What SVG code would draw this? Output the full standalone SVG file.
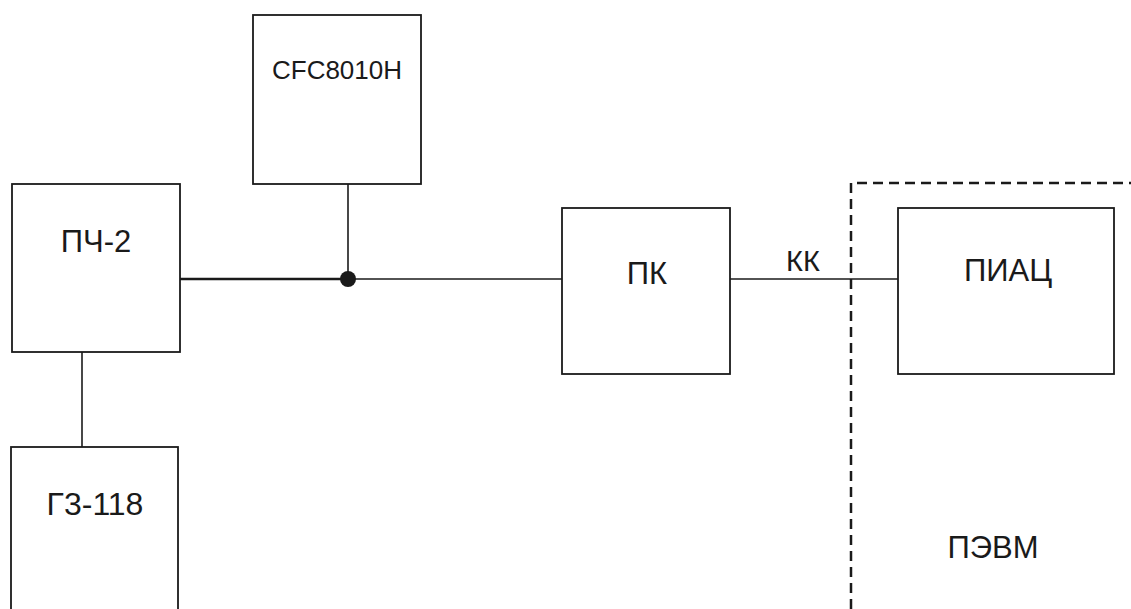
<svg xmlns="http://www.w3.org/2000/svg" width="1131" height="609" viewBox="0 0 1131 609">
<style>
.box{fill:#fff;stroke:#1a1a1a;stroke-width:1.8}
.t{font-family:"Liberation Sans",Arial,sans-serif;font-size:31px;fill:#1a1a1a;text-anchor:middle}
.c{stroke:#1a1a1a;stroke-width:1.6;fill:none}
.d{stroke:#1a1a1a;stroke-width:2.5;fill:none;stroke-dasharray:10 6}
</style>
<rect width="1131" height="609" fill="#fff"/>
<g id="connectors">
<line class="c" x1="180" y1="279" x2="348" y2="279" style="stroke-width:2.4"/>
<line class="c" x1="348" y1="279" x2="562" y2="279"/>
<line class="c" x1="348" y1="184" x2="348" y2="279"/>
<line class="c" x1="82" y1="352" x2="82" y2="447"/>
<line class="c" x1="730" y1="279" x2="898" y2="279"/>
<circle cx="348" cy="279" r="8" fill="#1a1a1a"/>
<text class="t" x="803" y="271" style="font-size:29px">КК</text>
</g>
<g id="pevm">
<path class="d" d="M851 609 V183 H1131"/>
<text class="t" x="993" y="558">ПЭВМ</text>
</g>
<g id="pch2">
<rect class="box" x="12" y="184" width="168" height="168"/>
<text class="t" x="96" y="252">ПЧ-2</text>
</g>
<g id="cfc">
<rect class="box" x="253" y="15" width="168" height="169"/>
<text class="t" x="337" y="79" style="font-size:26px">CFC8010H</text>
</g>
<g id="g3">
<rect class="box" x="11" y="447" width="167" height="180"/>
<text class="t" x="95" y="515" style="font-size:32px">Г3-118</text>
</g>
<g id="pk">
<rect class="box" x="562" y="208" width="168" height="166"/>
<text class="t" x="647" y="284">ПК</text>
</g>
<g id="piac">
<rect class="box" x="898" y="208" width="216" height="166"/>
<text class="t" x="1008" y="281">ПИАЦ</text>
</g>
</svg>
